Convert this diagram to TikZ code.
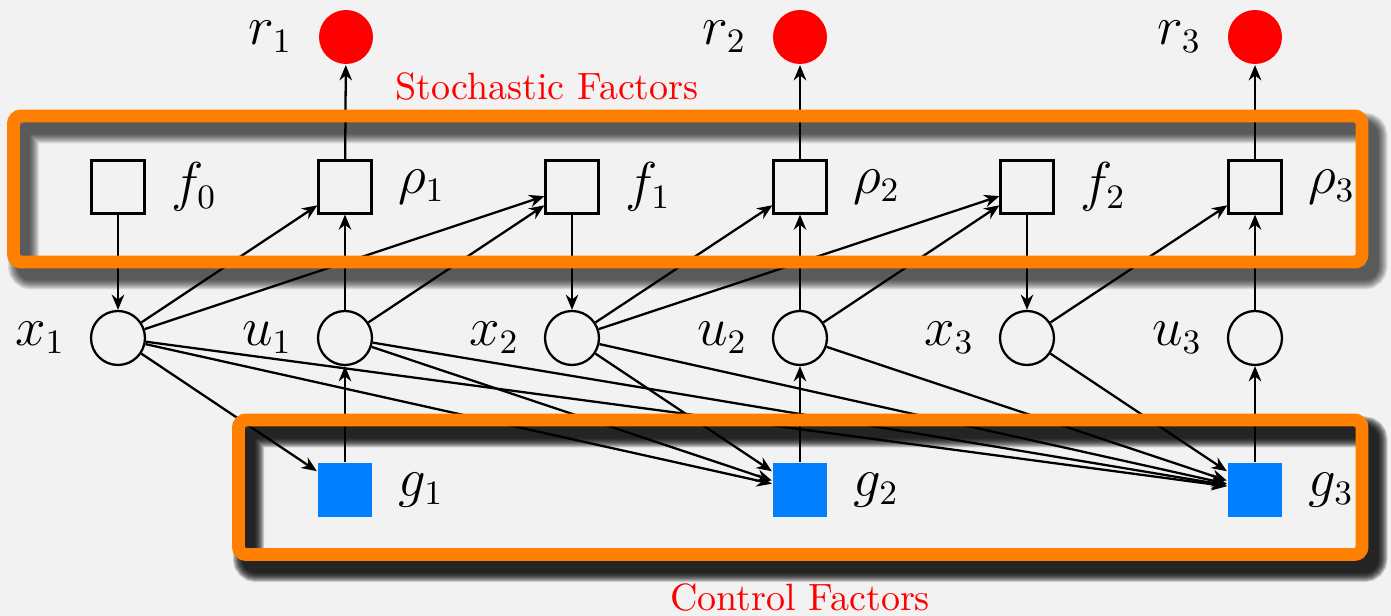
\documentclass[tikz,border=0pt]{standalone}
\usetikzlibrary{arrows.meta}
\definecolor{boxorange}{HTML}{FF8000}
\definecolor{ctlblue}{HTML}{0080FF}
\definecolor{bggray}{HTML}{F2F2F2}

\begin{document}
\begin{tikzpicture}[x=0.263pt, y=-0.263pt, line width=0.6pt,
    >={Stealth[length=4pt, width=3.3pt, inset=1.3pt]},
    lbl/.style={inner sep=0pt, font=\fontsize{13.5}{16}\selectfont},
    fac/.style={draw, minimum size=13.9pt, inner sep=0pt},
    var/.style={draw, circle, minimum size=14.2pt, inner sep=0pt},
    rew/.style={fill=red, circle, minimum size=14.2pt, inner sep=0pt},
    ctl/.style={fill=ctlblue, minimum size=14.2pt, inner sep=0pt},
    frame/.style={draw=boxorange, line width=3.4pt, rounded corners=2pt}]
	% 背景
	\fill[bggray] (0,0) rectangle (1391,616);
	\useasboundingbox (0,0) rectangle (1391,616);
	
	% 阴影
	\foreach \w in {0,...,9} {
		\draw[black, opacity=0.09, line width={(13+2*\w)*0.263pt}, rounded corners=2pt] (23.5,128) rectangle (1372,274);
		\draw[black, opacity=0.17, line width={(13+2*\w)*0.263pt}, rounded corners=2pt] (248.5,432) rectangle (1372,566.5);
	}
	
	% 奖励
	\node[rew, label={[lbl, label distance=6.4pt]left:$r_1$}] (r1) at (346,37) {};
	\node[rew, label={[lbl, label distance=6.4pt]left:$r_2$}] (r2) at (800,37) {};
	\node[rew, label={[lbl, label distance=6.4pt]left:$r_3$}] (r3) at (1255,37) {};
	
	% 随机因子
	\node[fac, label={[lbl, label distance=6.4pt]right:$f_0$}] (f0) at (118,187) {};
	\node[fac, label={[lbl, label distance=6.4pt]right:$\rho_1$}] (rho1) at (345,187) {};
	\node[fac, label={[lbl, label distance=6.4pt]right:$f_1$}] (f1) at (572,187) {};
	\node[fac, label={[lbl, label distance=6.4pt]right:$\rho_2$}] (rho2) at (800,187) {};
	\node[fac, label={[lbl, label distance=6.4pt]right:$f_2$}] (f2) at (1027,187) {};
	\node[fac, label={[lbl, label distance=6.4pt]right:$\rho_3$}] (rho3) at (1255,187) {};
	
	% 变量
	\node[var, label={[lbl, label distance=6.2pt]left:$x_1$}] (x1) at (118,338) {};
	\node[var, label={[lbl, label distance=6.2pt]left:$u_1$}] (u1) at (345,338) {};
	\node[var, label={[lbl, label distance=6.2pt]left:$x_2$}] (x2) at (572,338) {};
	\node[var, label={[lbl, label distance=6.2pt]left:$u_2$}] (u2) at (800,338) {};
	\node[var, label={[lbl, label distance=6.2pt]left:$x_3$}] (x3) at (1027,338) {};
	\node[var, label={[lbl, label distance=6.2pt]left:$u_3$}] (u3) at (1255,338) {};
	
	% 控制因子
	\node[ctl, label={[lbl, label distance=6.4pt]right:$g_1$}] (g1) at (345,490) {};
	\node[ctl, label={[lbl, label distance=6.4pt]right:$g_2$}] (g2) at (800,490) {};
	\node[ctl, label={[lbl, label distance=6.4pt]right:$g_3$}] (g3) at (1255,490) {};
	
	% 连线
	\draw[->] (rho1) -- (r1);
	\draw[->] (rho2) -- (r2);
	\draw[->] (rho3) -- (r3);
	\draw[->] (f0) -- (x1);
	\draw[->] (f1) -- (x2);
	\draw[->] (f2) -- (x3);
	\draw[->] (x1) -- (rho1);
	\draw[->] (x1) -- (f1);
	\draw[->] (u1) -- (rho1);
	\draw[->] (u1) -- (f1);
	\draw[->] (x2) -- (rho2);
	\draw[->] (x2) -- (f2);
	\draw[->] (u2) -- (rho2);
	\draw[->] (u2) -- (f2);
	\draw[->] (x3) -- (rho3);
	\draw[->] (u3) -- (rho3);
	\draw[->] (g1) -- (u1);
	\draw[->] (g2) -- (u2);
	\draw[->] (g3) -- (u3);
	\draw[->] (x1) -- (g1);
	\draw[->] (x1) -- (g2);
	\draw[->] (x1) -- (g3);
	\draw[->] (u1) -- (g2);
	\draw[->] (u1) -- (g3);
	\draw[->] (x2) -- (g2);
	\draw[->] (x2) -- (g3);
	\draw[->] (u2) -- (g3);
	\draw[->] (x3) -- (g3);
	
	% 方框
	\draw[frame] (13.5,116) rectangle (1362,262);
	\draw[frame] (238.5,420) rectangle (1362,554.5);
	
	% 标题
	\node[red] (stoch) at (547,87) {Stochastic Factors};
	\node[red] (ctrl) at (800,598) {Control Factors};
\end{tikzpicture}
\end{document}
